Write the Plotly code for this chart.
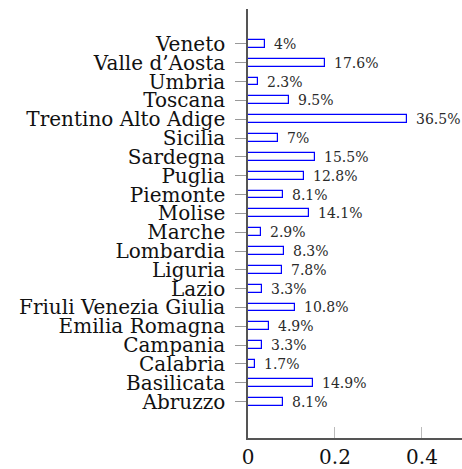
import plotly.graph_objects as go

# Regions listed bottom to top on the category axis
regions = [
    "Abruzzo", "Basilicata", "Calabria", "Campania", "Emilia Romagna",
    "Friuli Venezia Giulia", "Lazio", "Liguria", "Lombardia", "Marche",
    "Molise", "Piemonte", "Puglia", "Sardegna", "Sicilia",
    "Trentino Alto Adige", "Toscana", "Umbria", "Valle d\u2019Aosta", "Veneto",
]
percent = [8.1, 14.9, 1.7, 3.3, 4.9, 10.8, 3.3, 7.8, 8.3, 2.9,
           14.1, 8.1, 12.8, 15.5, 7.0, 36.5, 9.5, 2.3, 17.6, 4.0]
x_ticks = [0, 0.2, 0.4]
x_tick_text = ["0", "0.2", "0.4"]

shares = [p / 100 for p in percent]
labels = [f"{p:g}%" for p in percent]

SERIF = "DejaVu Serif, serif"

fig = go.Figure()
fig.add_trace(go.Bar(
    x=shares,
    y=list(range(len(regions))),
    orientation="h",
    width=0.42,
    marker=dict(color="white", line=dict(color="#0000ff", width=1.2)),
    showlegend=False,
))

for i, (v, t) in enumerate(zip(shares, labels)):
    fig.add_annotation(
        x=v, y=i, text=t, showarrow=False,
        xanchor="left", yanchor="middle", xshift=7,
        font=dict(family=SERIF, size=14, color="#2a2a2a"),
    )

fig.update_layout(
    width=462, height=469,
    margin=dict(l=248, r=0, t=9, b=25),
    plot_bgcolor="white", paper_bgcolor="white",
    bargap=0,
)
fig.update_xaxes(
    range=[0, 0.492],
    tickvals=x_ticks, ticktext=x_tick_text,
    ticks="inside", ticklen=11, tickwidth=1, tickcolor="#bbbbbb",
    showline=True, linecolor="#555555", linewidth=1.5,
    showgrid=False, zeroline=False,
    tickfont=dict(family=SERIF, size=20, color="#111111"),
)
fig.update_yaxes(
    range=[-1.93, 20.85],
    tickvals=list(range(len(regions))), ticktext=regions,
    ticks="outside", ticklen=11, tickwidth=1, tickcolor="#999999",
    ticklabelstandoff=6,
    showline=True, linecolor="#555555", linewidth=1.5,
    showgrid=False, zeroline=False,
    tickfont=dict(family=SERIF, size=20, color="#111111"),
)

fig.write_html("out.html")
